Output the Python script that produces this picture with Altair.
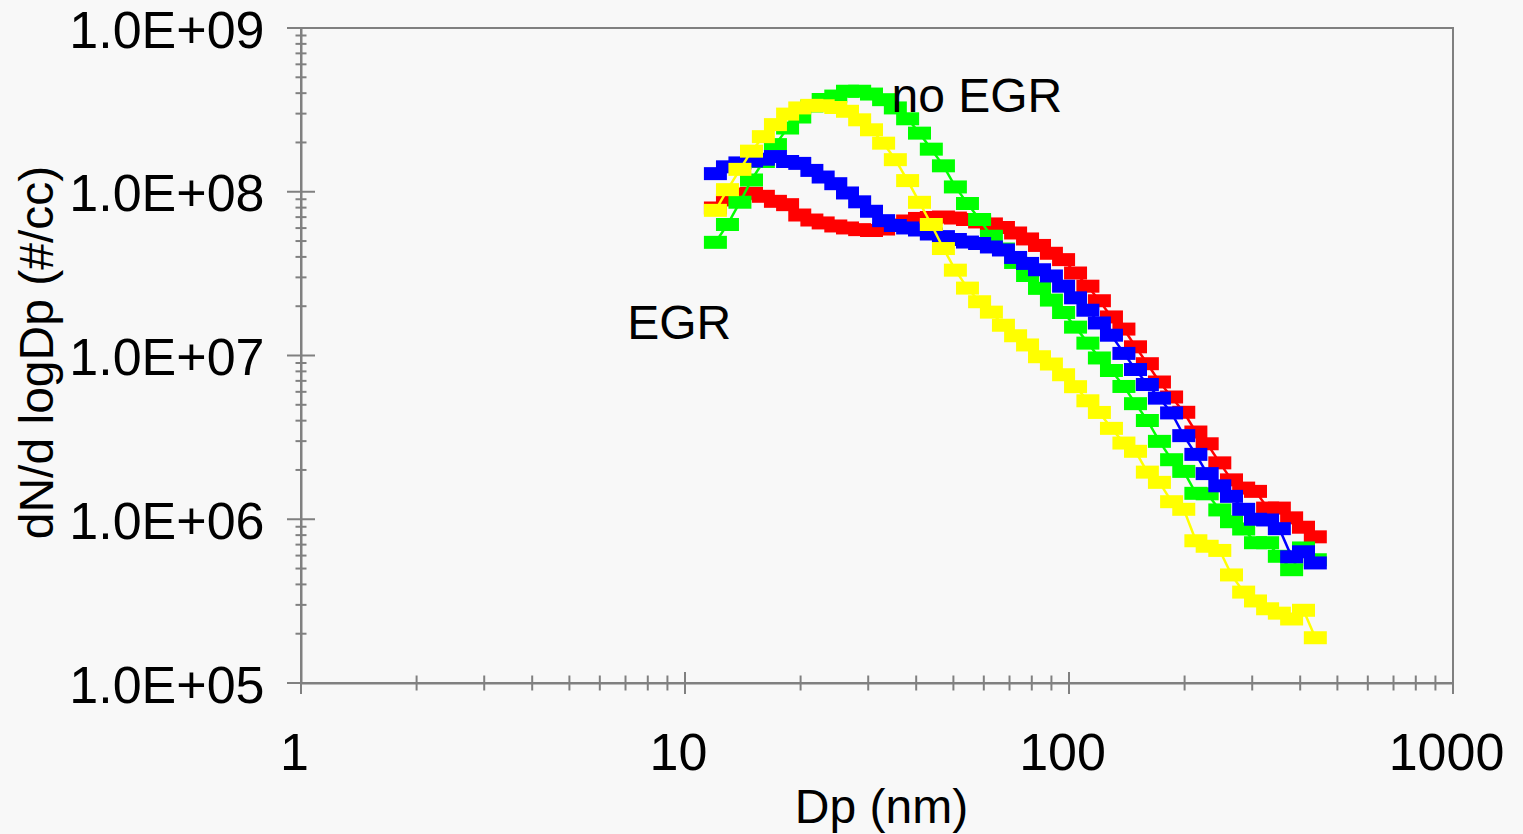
import altair as alt
import pandas as pd

# Particle diameter (nm) of each size channel
dp_nm = [12.0, 12.9, 13.9, 14.9, 16.0, 17.2, 18.5, 19.9, 21.4, 22.9,
         24.7, 26.5, 28.5, 30.6, 32.9, 35.3, 38.0, 40.8, 43.8, 47.1,
         50.6, 54.4, 58.5, 62.8, 67.5, 72.6, 78.0, 83.8, 90.0, 96.8,
         104, 112, 120, 129, 139, 149, 160, 172, 185, 199,
         214, 229, 247, 265, 285, 306, 329, 353, 380, 408, 438]

# dN/dlogDp (#/cc) for each series
red = [7.96e7, 8.91e7, 9.69e7, 9.78e7, 9.38e7, 8.74e7, 8.34e7, 7.21e7, 6.72e7, 6.45e7,
       6.18e7, 6.01e7, 5.87e7, 5.80e7, 5.92e7, 6.27e7, 6.63e7, 6.87e7, 6.96e7, 7.01e7,
       6.91e7, 6.77e7, 6.54e7, 6.36e7, 6.05e7, 5.60e7, 5.15e7, 4.70e7, 4.21e7, 3.85e7,
       3.19e7, 2.65e7, 2.16e7, 1.72e7, 1.45e7, 1.13e7, 8.91e6, 6.89e6, 5.58e6, 4.50e6,
       3.41e6, 2.89e6, 2.21e6, 1.74e6, 1.55e6, 1.48e6, 1.17e6, 1.17e6, 1.02e6, 8.94e5, 7.81e5]

green = [4.91e7, 6.31e7, 8.63e7, 1.18e8, 1.53e8, 1.94e8, 2.45e8, 2.86e8, 3.34e8, 3.66e8,
         3.84e8, 4.11e8, 4.11e8, 3.95e8, 3.65e8, 3.25e8, 2.79e8, 2.28e8, 1.82e8, 1.44e8,
         1.07e8, 8.48e7, 6.77e7, 5.35e7, 4.47e7, 3.70e7, 3.08e7, 2.57e7, 2.18e7, 1.83e7,
         1.49e7, 1.19e7, 9.66e6, 8.10e6, 6.47e6, 5.08e6, 4.01e6, 2.99e6, 2.31e6, 1.96e6,
         1.44e6, 1.43e6, 1.14e6, 9.66e5, 8.72e5, 7.19e5, 7.19e5, 5.94e5, 4.92e5, 6.68e5, 5.66e5]

blue = [1.29e8, 1.42e8, 1.50e8, 1.54e8, 1.58e8, 1.64e8, 1.53e8, 1.49e8, 1.35e8, 1.23e8,
        1.12e8, 9.83e7, 8.68e7, 7.60e7, 6.66e7, 6.22e7, 6.01e7, 5.84e7, 5.52e7, 5.32e7,
        5.11e7, 4.93e7, 4.83e7, 4.60e7, 4.41e7, 3.97e7, 3.65e7, 3.34e7, 3.06e7, 2.65e7,
        2.25e7, 1.89e7, 1.58e7, 1.33e7, 1.03e7, 8.21e6, 6.65e6, 5.49e6, 4.46e6, 3.24e6,
        2.49e6, 1.90e6, 1.60e6, 1.38e6, 1.15e6, 1.00e6, 9.90e5, 8.76e5, 5.90e5, 6.33e5, 5.41e5]

yellow = [7.70e7, 1.03e8, 1.37e8, 1.77e8, 2.17e8, 2.57e8, 2.98e8, 3.25e8, 3.37e8, 3.35e8,
          3.27e8, 3.10e8, 2.75e8, 2.39e8, 1.98e8, 1.57e8, 1.17e8, 8.62e7, 6.31e7, 4.50e7,
          3.32e7, 2.58e7, 2.13e7, 1.84e7, 1.53e7, 1.32e7, 1.16e7, 9.83e6, 8.87e6, 7.63e6,
          6.45e6, 5.29e6, 4.49e6, 3.59e6, 2.92e6, 2.60e6, 1.94e6, 1.68e6, 1.28e6, 1.15e6,
          7.39e5, 6.84e5, 6.45e5, 4.57e5, 3.59e5, 3.17e5, 2.84e5, 2.67e5, 2.46e5, 2.78e5, 1.89e5]

series_names = ["red", "green", "blue", "yellow"]
series_colors = ["#ff0000", "#00ff00", "#0000ff", "#ffff00"]
series_values = [red, green, blue, yellow]

# Axis ticks
x_major = [1, 10, 100, 1000]
x_minor = [m * d for d in (1, 10, 100) for m in range(2, 10)]
y_major = [1e5, 1e6, 1e7, 1e8, 1e9]
y_minor = [m * d for d in (1e5, 1e6, 1e7, 1e8) for m in range(2, 10)]

# Annotations
annot_text = ["no EGR", "EGR"]
annot_dp = [34.5, 7.07]
annot_dn = [3.07e8, 1.26e7]

FONT = "Liberation Sans"
GRAY = "#808080"
BG = "#f8f8f8"
W, H = 1152, 655
RECT = "M-1,-0.565L1,-0.565L1,0.565L-1,0.565Z"

x_scale = alt.Scale(type="log", domain=[1, 1000], nice=False)
y_scale = alt.Scale(type="log", domain=[1e5, 1e9], nice=False)

x_axis = alt.Axis(
    values=x_major, format="d", title="Dp (nm)", grid=False, ticks=False, tickSize=0,
    domainColor=GRAY, domainWidth=2,
    labelFont=FONT, labelFontSize=52, labelColor="black", labelPadding=45,
    labelOffset=-7, labelBaseline="top", labelFlush=False, labelOverlap=False,
    labelLimit=0,
    titleFont=FONT, titleFontSize=48, titleFontWeight="normal", titleColor="black",
    titleX=580, titleY=139, titleAlign="center", titleBaseline="alphabetic",
    titleLimit=0,
)
y_axis = alt.Axis(
    values=y_major,
    labelExpr="'1.0E+' + format(round(log(datum.value) / LN10), '02')",
    title="dN/d logDp (#/cc)", grid=False, ticks=False, tickSize=0,
    domainColor=GRAY, domainWidth=2,
    labelFont=FONT, labelFontSize=52, labelColor="black", labelPadding=37,
    labelOffset=3, labelAlign="right", labelBaseline="middle",
    labelFlush=False, labelOverlap=False, labelLimit=0,
    titleFont=FONT, titleFontSize=48, titleFontWeight="normal", titleColor="black",
    titleX=-249, titleY=324, titleAngle=270, titleAlign="center",
    titleBaseline="alphabetic", titleLimit=0,
)

X = alt.X("Dp:Q", scale=x_scale, axis=x_axis)
Y = alt.Y("dN:Q", scale=y_scale, axis=y_axis)

layers = []

# axis tick marks crossing the axis lines
layers.append(
    alt.Chart(pd.DataFrame({"Dp": x_major}))
    .mark_tick(orient="vertical", size=22, thickness=2, color=GRAY, opacity=1)
    .encode(x=X, y=alt.value(H))
)
layers.append(
    alt.Chart(pd.DataFrame({"Dp": x_minor}))
    .mark_tick(orient="vertical", size=15, thickness=2, color=GRAY, opacity=1)
    .encode(x=X, y=alt.value(H))
)
layers.append(
    alt.Chart(pd.DataFrame({"dN": y_major}))
    .mark_tick(orient="horizontal", size=28, thickness=2, color=GRAY, opacity=1)
    .encode(y=Y, x=alt.value(0))
)
layers.append(
    alt.Chart(pd.DataFrame({"dN": y_minor}))
    .mark_tick(orient="horizontal", size=11, thickness=2, color=GRAY, opacity=1)
    .encode(y=Y, x=alt.value(0))
)

for name, color, vals in zip(series_names, series_colors, series_values):
    df = pd.DataFrame({"Dp": dp_nm, "dN": vals, "series": name})
    base = alt.Chart(df).encode(x=X, y=Y)
    layers.append(base.mark_line(color=color, strokeWidth=2.5))
    layers.append(
        base.mark_point(shape=RECT, size=529, filled=True, opacity=1,
                        color=color, strokeWidth=0)
    )

layers.append(
    alt.Chart(pd.DataFrame({"Dp": annot_dp, "dN": annot_dn, "label": annot_text}))
    .mark_text(font=FONT, fontSize=48, align="left", baseline="alphabetic", color="black")
    .encode(x=X, y=Y, text="label:N")
)

chart = (
    alt.layer(*layers)
    .properties(
        width=W, height=H, background=BG,
        padding={"left": 301, "top": 28, "right": 70, "bottom": 151},
        autosize=alt.AutoSizeParams(type="none"),
    )
    .configure_view(stroke=GRAY, strokeWidth=2, fill=BG)
)

chart.save("out.html", embed_options={"renderer": "svg", "actions": False})
